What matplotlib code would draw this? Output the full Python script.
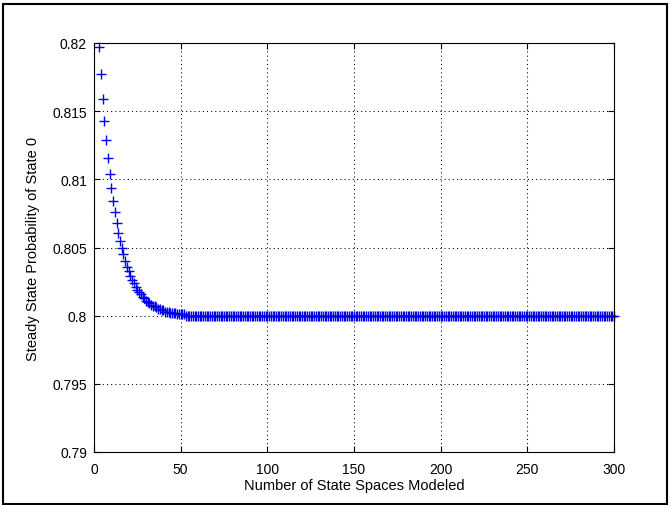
import matplotlib
matplotlib.use('Agg')
import matplotlib.pyplot as plt
from matplotlib.patches import Rectangle

plt.rcParams['font.family'] = ['Liberation Sans', 'DejaVu Sans']

# steady state probability of state 0, for 3..300 state spaces
y_decay = [0.8197, 0.8177, 0.8159, 0.8143, 0.8129, 0.8116, 0.8104, 0.8094, 0.8084, 0.8076,
           0.8068, 0.8061, 0.8055, 0.8050, 0.8045, 0.8040, 0.8036, 0.8033, 0.8029, 0.8026,
           0.8024, 0.8021, 0.8019, 0.8017, 0.8016, 0.8014, 0.8013, 0.8011, 0.8010, 0.8009,
           0.8008, 0.8007, 0.8007, 0.8006, 0.8005, 0.8005, 0.8004, 0.8004, 0.8003, 0.8003,
           0.8003, 0.8002, 0.8002, 0.8002, 0.8002, 0.8001, 0.8001, 0.8001, 0.8001, 0.8001]
y_flat = [0.8, 0.8, 0.8, 0.8, 0.8, 0.8, 0.8, 0.8, 0.8, 0.8, 0.8, 0.8, 0.8, 0.8, 0.8, 0.8, 0.8, 0.8, 0.8, 0.8, 0.8, 0.8, 0.8, 0.8, 0.8, 0.8, 0.8, 0.8, 0.8, 0.8, 0.8,
          0.8, 0.8, 0.8, 0.8, 0.8, 0.8, 0.8, 0.8, 0.8, 0.8, 0.8, 0.8, 0.8, 0.8, 0.8, 0.8, 0.8, 0.8, 0.8, 0.8, 0.8, 0.8, 0.8, 0.8, 0.8, 0.8, 0.8, 0.8, 0.8, 0.8, 0.8,
          0.8, 0.8, 0.8, 0.8, 0.8, 0.8, 0.8, 0.8, 0.8, 0.8, 0.8, 0.8, 0.8, 0.8, 0.8, 0.8, 0.8, 0.8, 0.8, 0.8, 0.8, 0.8, 0.8, 0.8, 0.8, 0.8, 0.8, 0.8, 0.8, 0.8, 0.8,
          0.8, 0.8, 0.8, 0.8, 0.8, 0.8, 0.8, 0.8, 0.8, 0.8, 0.8, 0.8, 0.8, 0.8, 0.8, 0.8, 0.8, 0.8, 0.8, 0.8, 0.8, 0.8, 0.8, 0.8, 0.8, 0.8, 0.8, 0.8, 0.8, 0.8, 0.8,
          0.8, 0.8, 0.8, 0.8, 0.8, 0.8, 0.8, 0.8, 0.8, 0.8, 0.8, 0.8, 0.8, 0.8, 0.8, 0.8, 0.8, 0.8, 0.8, 0.8, 0.8, 0.8, 0.8, 0.8, 0.8, 0.8, 0.8, 0.8, 0.8, 0.8, 0.8,
          0.8, 0.8, 0.8, 0.8, 0.8, 0.8, 0.8, 0.8, 0.8, 0.8, 0.8, 0.8, 0.8, 0.8, 0.8, 0.8, 0.8, 0.8, 0.8, 0.8, 0.8, 0.8, 0.8, 0.8, 0.8, 0.8, 0.8, 0.8, 0.8, 0.8, 0.8,
          0.8, 0.8, 0.8, 0.8, 0.8, 0.8, 0.8, 0.8, 0.8, 0.8, 0.8, 0.8, 0.8, 0.8, 0.8, 0.8, 0.8, 0.8, 0.8, 0.8, 0.8, 0.8, 0.8, 0.8, 0.8, 0.8, 0.8, 0.8, 0.8, 0.8, 0.8,
          0.8, 0.8, 0.8, 0.8, 0.8, 0.8, 0.8, 0.8, 0.8, 0.8, 0.8, 0.8, 0.8, 0.8, 0.8, 0.8, 0.8, 0.8, 0.8, 0.8, 0.8, 0.8, 0.8, 0.8, 0.8, 0.8, 0.8, 0.8, 0.8, 0.8, 0.8]
y = y_decay + y_flat
x = list(range(3, 3 + len(y)))

xticks = [0, 50, 100, 150, 200, 250, 300]
yticks = [0.79, 0.795, 0.8, 0.805, 0.81, 0.815, 0.82]
ytick_labels = ['0.79', '0.795', '0.8', '0.805', '0.81', '0.815', '0.82']

fig = plt.figure(figsize=(6.7, 5.06), dpi=100)
ax = fig.add_axes([94 / 670, 53 / 506, 520 / 670, 409 / 506])
ax.plot(x, y, '+', color='#0000ee', markersize=6.8, markeredgewidth=1.0, clip_on=False)

ax.set_xlim(0, 300)
ax.set_ylim(0.79, 0.82)
ax.set_xticks(xticks)
ax.set_yticks(yticks)
ax.set_yticklabels(ytick_labels)
ax.grid(True, color='black', linestyle=(0, (1, 3)), linewidth=0.75)
ax.tick_params(direction='in', top=True, right=True, length=4, width=0.8,
               labelsize=10)
ax.tick_params(axis='x', pad=7)
ax.tick_params(axis='y', pad=5)
for s in ax.spines.values():
    s.set_linewidth(0.8)

ax.set_xlabel('Number of State Spaces Modeled', fontsize=10.5, labelpad=2)
ax.set_ylabel('Steady State Probability of State 0', fontsize=10.5, labelpad=9)

fig.patches.append(Rectangle((3 / 670, 1 / 506), 664 / 670, 500 / 506,
                             transform=fig.transFigure, fill=False,
                             edgecolor='black', linewidth=1.5))

fig.savefig('out.png', dpi=100)
